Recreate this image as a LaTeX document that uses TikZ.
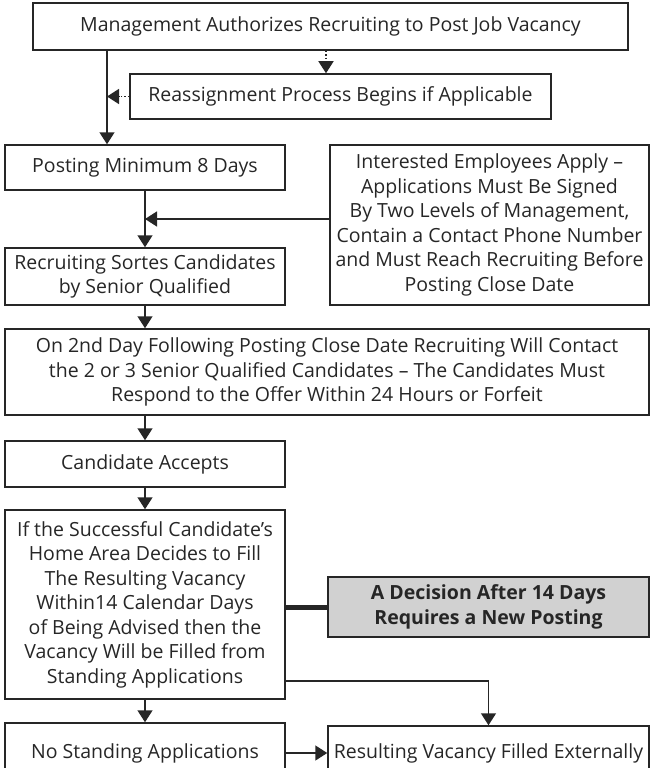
\documentclass[tikz,border=0pt]{standalone}
\usepackage{fontspec}
\setmainfont{Open Sans}
\usetikzlibrary{arrows.meta}

\begin{document}
\begin{tikzpicture}[x=1pt,y=-1pt,
    box/.style={draw=black!85, line width=1.5pt, align=center, inner sep=0pt,
        text=black!85, font=\fontsize{19.5}{24.5}\selectfont},
    wh/.style 2 args={minimum width=#1, minimum height=#2},
    arrow/.style={line width=1.5pt, draw=black!85, -{Triangle[width=15pt,length=12pt]}},
    dotarrow/.style={arrow, dotted}]
    \useasboundingbox (0,0) rectangle (651,768);
    % boxes
    \node[box, wh={595pt}{47pt}] (mgmt) at (330.5,26.5) {Management Authorizes Recruiting to Post Job Vacancy};
    \node[box, wh={421pt}{45pt}] (reass) at (340.5,96.5) {Reassignment Process Begins if Applicable};
    \node[box, wh={280pt}{45pt}] (posting) at (145,167.5) {Posting Minimum 8 Days};
    \node[box, wh={319pt}{160pt}] (apply) at (489.5,225) {Interested Employees Apply --\\Applications Must Be Signed\\By Two Levels of Management,\\Contain a Contact Phone Number\\and Must Reach Recruiting Before\\Posting Close Date};
    \node[box, wh={280pt}{57pt}] (sorts) at (145,276.5) {Recruiting Sortes Candidates\\by Senior Qualified};
    \node[box, wh={644pt}{86pt}] (contact) at (327,372) {On 2nd Day Following Posting Close Date Recruiting Will Contact\\the 2 or 3 Senior Qualified Candidates -- The Candidates Must\\Respond to the Offer Within 24 Hours or Forfeit};
    \node[box, wh={280pt}{46pt}] (accepts) at (145,464) {Candidate Accepts};
    \node[box, wh={280pt}{189pt}] (homearea) at (145,604.5) {If the Successful Candidate’s\\Home Area Decides to Fill\\The Resulting Vacancy\\Within14 Calendar Days\\of Being Advised then the\\Vacancy Will be Filled from\\Standing Applications};
    \node[box, wh={321pt}{60pt}, fill=black!18, font=\fontsize{19.5}{24.5}\selectfont\bfseries] (decision) at (488.5,607) {A Decision After 14 Days\\Requires a New Posting};
    \node[box, wh={280pt}{60pt}] (nostanding) at (145,753) {No Standing Applications};
    \node[box, wh={321pt}{54pt}] (external) at (488.5,753) {Resulting Vacancy Filled Externally};
    % connector points
    \coordinate (trunk) at (107,0);
    \coordinate (dotx) at (326,0);
    \coordinate (join) at (145,219);
    \coordinate (bend) at (0,681);
    % connectors
    \draw[dotarrow] (mgmt.south -| dotx) -- (reass.north -| dotx);
    \draw[arrow] (mgmt.south -| trunk) -- (posting.north -| trunk);
    \draw[dotarrow] (reass.west) -- (reass.west -| trunk);
    \draw[arrow] (posting.south) -- (sorts.north);
    \draw[arrow] (apply.west |- join) -- (join);
    \draw[arrow] (sorts.south) -- (sorts.south |- contact.north);
    \draw[arrow] (accepts.north |- contact.south) -- (accepts.north);
    \draw[arrow] (accepts.south) -- (homearea.north);
    \draw[line width=5pt, draw=black!85] (homearea.east |- decision.west) -- (decision.west);
    \draw[arrow] (homearea.east |- bend) -| (external.north);
    \draw[arrow] (homearea.south) -- (nostanding.north);
    \draw[arrow] (nostanding.east) -- (nostanding.east -| external.west);
\end{tikzpicture}
\end{document}
